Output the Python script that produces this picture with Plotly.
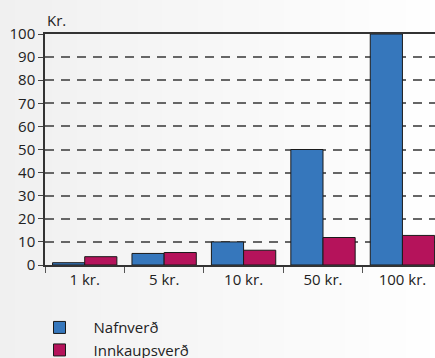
import plotly.graph_objects as go

categories = ["1 kr.", "5 kr.", "10 kr.", "50 kr.", "100 kr."]
nafnverd = [1, 5, 10, 50, 100]
innkaupsverd = [3.6, 5.4, 6.4, 11.9, 12.8]
series_names = ["Nafnverð", "Innkaupsverð"]
y_ticks = list(range(0, 101, 10))

BLUE = "#3677bc"
RED = "#b5135b"
DARK = "#222222"

fig = go.Figure()
fig.add_trace(go.Bar(x=categories, y=nafnverd, name=series_names[0], legendgroup="a",
                     marker=dict(color=BLUE, line=dict(color="#1a1a1a", width=1))))
fig.add_trace(go.Bar(x=categories, y=innkaupsverd, name=series_names[1], legendgroup="b",
                     marker=dict(color=RED, line=dict(color="#1a1a1a", width=1))))

# background gradient (light grey on the left to white on the right)
n = 40
x0p, x1p = -0.2, 1.05
for i in range(n):
    t = i / (n - 1)
    g = int(round(0xef + (0xff - 0xef) * t))
    fig.add_shape(type="rect", xref="paper", yref="paper",
                  x0=x0p + (x1p - x0p) * i / n, x1=x0p + (x1p - x0p) * (i + 1) / n + 0.002,
                  y0=-0.5, y1=1.2, fillcolor=f"rgb({g},{g},{g})",
                  line=dict(width=0), layer="below")

fig.update_layout(
    width=435, height=358,
    margin=dict(l=45, r=0, t=34, b=93, autoexpand=False),
    paper_bgcolor="#ffffff",
    plot_bgcolor="rgba(0,0,0,0)",
    barmode="group",
    bargap=0.19,
    bargroupgap=0,
    font=dict(family="Open Sans", size=15, color=DARK),
    showlegend=True,
    legend=dict(orientation="v", x=-0.05, y=-0.2, xanchor="left", yanchor="top",
                bgcolor="rgba(0,0,0,0)", itemwidth=58, tracegroupgap=8,
                font=dict(size=15, color=DARK), traceorder="normal"),
    annotations=[dict(text="Kr.", xref="paper", yref="paper", x=0, y=1.0,
                      xanchor="left", yanchor="bottom", yshift=2, showarrow=False,
                      font=dict(size=15, color=DARK))],
)
fig.update_xaxes(range=[-0.5, 4.41], showline=True, linecolor="#333333", linewidth=1.5,
                 mirror=True, ticks="outside", tickson="boundaries", ticklen=6,
                 tickcolor="#555555", showgrid=False, fixedrange=True)
fig.update_yaxes(range=[0, 100], tickvals=y_ticks, showline=True, linecolor="#333333",
                 linewidth=1.5, ticks="outside", ticklen=5, tickcolor="#444444",
                 showgrid=True, gridcolor="#666666", gridwidth=1.5, griddash="9px,7px",
                 zeroline=False, fixedrange=True)

fig.write_html("out.html")
